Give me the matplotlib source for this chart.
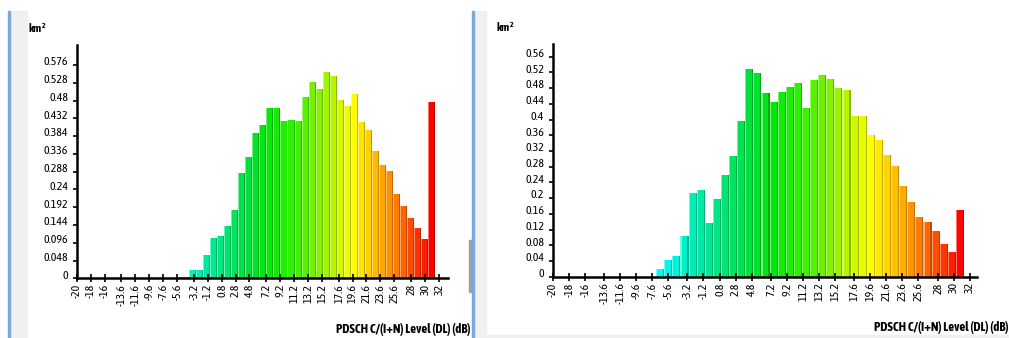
import numpy as np
import matplotlib
matplotlib.use('Agg')
import matplotlib.pyplot as plt
from matplotlib import font_manager
from matplotlib.colors import LinearSegmentedColormap, to_rgb
from matplotlib.patches import Rectangle
from matplotlib import transforms


def is_bold(w):
    if isinstance(w, (int, float)):
        return w >= 600
    return str(w).lower() in ('bold', 'semibold', 'demibold', 'demi', 'heavy', 'extra bold', 'black')


# look for a narrow sans font (prefer one that has a bold face)
fonts = font_manager.fontManager.ttflist
narrow_names = sorted({f.name for f in fonts if 'Narrow' in f.name or 'Condensed' in f.name})
narrow_bold = sorted({f.name for f in fonts if f.name in narrow_names and is_bold(f.weight)})
if narrow_bold:
    plt.rcParams['font.family'] = [narrow_bold[0], 'DejaVu Sans']
    fs, fs_title, title_font = 8.5, 9.3, [narrow_bold[0], 'DejaVu Sans']
elif narrow_names:
    plt.rcParams['font.family'] = [narrow_names[0], 'DejaVu Sans']
    fs, fs_title, title_font = 8.5, 7.3, ['Liberation Sans', 'DejaVu Sans']
else:
    plt.rcParams['font.family'] = ['Liberation Sans', 'DejaVu Sans']
    fs, fs_title, title_font = 7.5, 7.3, ['Liberation Sans', 'DejaVu Sans']

# x ticks shared by both panels (dB)
x_ticks = [-20, -18, -16, -13.6, -11.6, -9.6, -7.6, -5.6, -3.2, -1.2, 0.8, 2.8,
           4.8, 7.2, 9.2, 11.2, 13.2, 15.2, 17.6, 19.6, 21.6, 23.6, 25.6, 28, 30, 32]
x_labels = ['-20', '-18', '-16', '-13.6', '-11.6', '-9.6', '-7.6', '-5.6', '-3.2', '-1.2',
            '0.8', '2.8', '4.8', '7.2', '9.2', '11.2', '13.2', '15.2', '17.6', '19.6',
            '21.6', '23.6', '25.6', '28', '30', '32']

bin_width = 1.01

# left panel: area (km2) per C/(I+N) bin
left_first_bin = -5.9
left_area = [0.003, 0.003, 0.022, 0.022, 0.062, 0.108, 0.113, 0.142, 0.185, 0.284,
             0.327, 0.393, 0.414, 0.460, 0.460, 0.425, 0.428, 0.425, 0.489, 0.529,
             0.510, 0.556, 0.545, 0.481, 0.465, 0.497, 0.422, 0.401, 0.345, 0.305,
             0.289, 0.228, 0.196, 0.164, 0.137, 0.105, 0.476]
left_yticks = [0, 0.048, 0.096, 0.144, 0.192, 0.24, 0.288, 0.336, 0.384, 0.432, 0.48, 0.528, 0.576]

# right panel
right_first_bin = -7.1
right_area = [0.019, 0.042, 0.052, 0.103, 0.212, 0.221, 0.136, 0.197, 0.258, 0.308,
              0.397, 0.528, 0.518, 0.467, 0.444, 0.470, 0.482, 0.492, 0.430, 0.500,
              0.513, 0.503, 0.480, 0.476, 0.410, 0.410, 0.361, 0.349, 0.309, 0.281,
              0.232, 0.190, 0.153, 0.138, 0.116, 0.083, 0.062, 0.171]
right_yticks = [0, 0.04, 0.08, 0.12, 0.16, 0.2, 0.24, 0.28, 0.32, 0.36, 0.4, 0.44, 0.48, 0.52, 0.56]

x_title = 'PDSCH C/(I+N) Level (DL) (dB)'

cmap = LinearSegmentedColormap.from_list('cin', [
    (0.00, (0.0, 1.0, 1.0)),
    (0.13, (0.0, 0.92, 0.68)),
    (0.30, (0.0, 0.88, 0.25)),
    (0.37, (0.0, 0.90, 0.05)),
    (0.48, (0.20, 0.95, 0.0)),
    (0.58, (0.55, 0.95, 0.0)),
    (0.66, (0.85, 0.97, 0.0)),
    (0.70, (1.0, 1.0, 0.0)),
    (0.76, (1.0, 0.82, 0.0)),
    (0.83, (1.0, 0.60, 0.0)),
    (0.92, (1.0, 0.30, 0.0)),
    (1.00, (1.0, 0.0, 0.0)),
])


def draw_panel(ax, first_bin, area, yticks, ytop, xright):
    lefts = first_bin + bin_width * np.arange(len(area))
    centers = lefts + bin_width / 2
    cols = [cmap((c + 7) / 38) for c in centers]
    light = [tuple(np.array(to_rgb(c)) * 0.55 + 0.45) for c in cols]
    dark = [tuple(np.array(to_rgb(c)) * 0.75) for c in cols]
    ax.bar(lefts, area, width=bin_width, align='edge', color=cols, linewidth=0)
    ax.bar(lefts, area, width=0.14, align='edge', color=light, linewidth=0)
    ax.bar(lefts + bin_width - 0.14, area, width=0.14, align='edge', color=dark, linewidth=0)

    ax.set_xlim(-20, xright)
    ax.set_ylim(0, ytop)
    for s in ['top', 'right']:
        ax.spines[s].set_visible(False)
    for s in ['left', 'bottom']:
        ax.spines[s].set_linewidth(1.8)
        ax.spines[s].set_zorder(5)
    ax.set_xticks(x_ticks)
    ax.set_xticklabels(x_labels, rotation=90, fontsize=fs)
    ax.set_yticks(yticks)
    ax.set_yticklabels(['{:g}'.format(v) for v in yticks], fontsize=fs)
    ax.tick_params(axis='x', direction='inout', length=6, width=1.2, pad=1)
    ax.tick_params(axis='y', direction='out', length=3, width=1.2, pad=3)
    off = transforms.ScaledTranslation(0, 3 / 72, ax.figure.dpi_scale_trans)
    for lab in ax.get_yticklabels():
        lab.set_transform(lab.get_transform() + off)


fig = plt.figure(figsize=(10.09, 3.38), dpi=100)
W, H = 1009, 338


def px_rect(x0, y0, x1, y1, color):
    fig.patches.append(Rectangle((x0 / W, 1 - y1 / H), (x1 - x0) / W, (y1 - y0) / H,
                                 transform=fig.transFigure, color=color, zorder=0))


# window frame decorations
px_rect(9, 11, 27, 338, '#f0f0f0')
px_rect(8, 11, 9.5, 338, '#7aa7d6')
px_rect(473, 11, 486, 338, '#f0f0f0')
px_rect(469, 240, 473, 292, '#a0a0a0')
px_rect(472, 11, 473.5, 338, '#7aa7d6')
px_rect(486, 335, 1009, 338, '#f0f0f0')

ax1 = fig.add_axes([76.7 / W, 1 - 278.3 / H, 371.3 / W, 233.3 / H])
draw_panel(ax1, left_first_bin, left_area, left_yticks, 0.630, 33.3)
ax2 = fig.add_axes([552.7 / W, 1 - 276.7 / H, 424 / W, 232.4 / H])
draw_panel(ax2, right_first_bin, right_area, right_yticks, 0.5915, 32.87)

unit = 'km$^\\mathregular{2}$'
fig.text(28 / W, 1 - 28 / H, unit, fontsize=8, fontweight='bold', va='center', family=title_font)
fig.text(496 / W, 1 - 27 / H, unit, fontsize=8, fontweight='bold', va='center', family=title_font)
fig.text(470 / W, 1 - 330 / H, x_title, fontsize=fs_title, fontweight='bold', ha='right',
         va='center', family=title_font)
fig.text(1009 / W, 1 - 328 / H, x_title, fontsize=fs_title, fontweight='bold', ha='right',
         va='center', family=title_font)

fig.savefig('out.png', dpi=100)
